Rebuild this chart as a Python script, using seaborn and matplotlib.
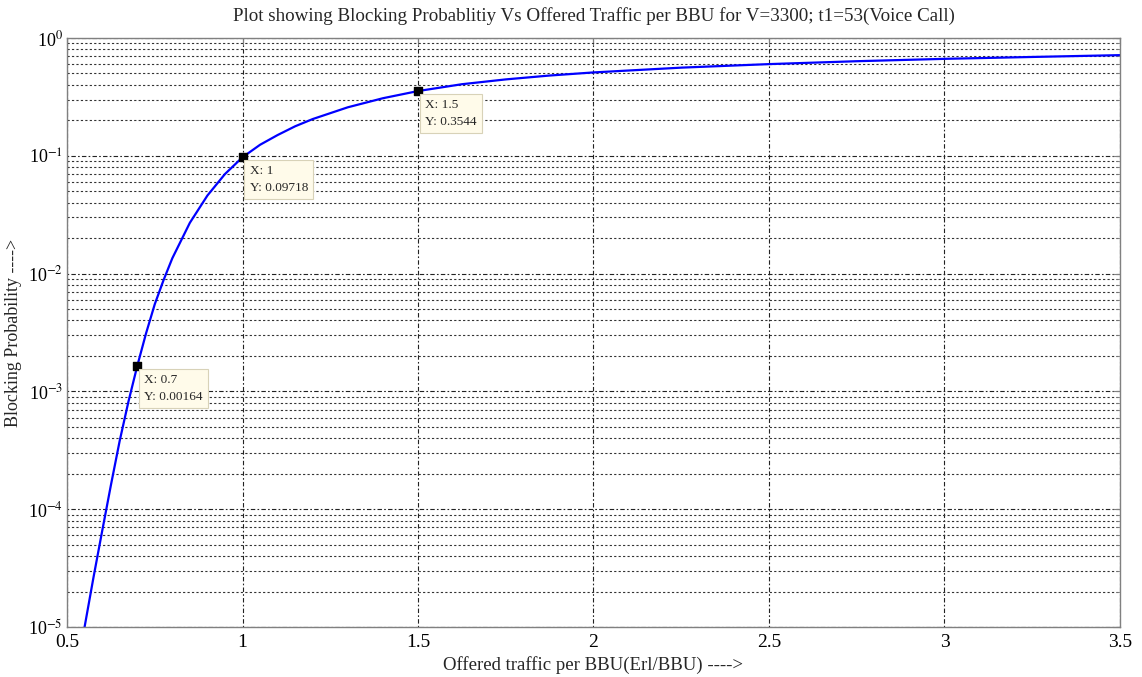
import numpy as np
import pandas as pd
import matplotlib
matplotlib.use("Agg")
import matplotlib.pyplot as plt
import seaborn as sns
from matplotlib.ticker import LogLocator, NullLocator, FixedLocator

# Data
traffic = [0.55, 0.575, 0.6, 0.625, 0.65, 0.675, 0.7, 0.725, 0.75, 0.775, 0.8,
           0.85, 0.9, 0.95, 1.0, 1.05, 1.1, 1.15, 1.2, 1.3, 1.4, 1.5, 1.625,
           1.75, 1.875, 2.0, 2.25, 2.5, 2.75, 3.0, 3.25, 3.5]
blocking = [1.0e-5, 2.6e-5, 6.5e-5, 1.6e-4, 3.8e-4, 8.2e-4, 0.00164, 3.1e-3,
            5.5e-3, 8.8e-3, 0.0135, 0.027, 0.046, 0.07, 0.09718, 0.124, 0.15,
            0.178, 0.205, 0.258, 0.308, 0.3544, 0.405, 0.445, 0.48, 0.51, 0.56,
            0.60, 0.635, 0.665, 0.69, 0.715]
tip_x = [0.7, 1.0, 1.5]
tip_y = [0.00164, 0.09718, 0.3544]
tip_labels = ["X: 0.7\nY: 0.00164", "X: 1\nY: 0.09718", "X: 1.5\nY: 0.3544"]
x_ticks = [0.5, 1, 1.5, 2, 2.5, 3, 3.5]

df = pd.DataFrame({"traffic": traffic, "blocking": blocking})

sns.set_style("white")
plt.rcParams['font.family'] = ['Liberation Serif', 'DejaVu Serif']
plt.rcParams['mathtext.fontset'] = 'stix'

fig = plt.figure(figsize=(11.42, 6.77), dpi=100)
ax = fig.add_axes([0.0587, 0.0739, 0.922, 0.870])

sns.lineplot(data=df, x="traffic", y="blocking", ax=ax, color=(0, 0, 1),
             linewidth=1.6, estimator=None)
ax.set_yscale("log")
ax.set_xlim(0.5, 3.5)
ax.set_ylim(1e-5, 1)
ax.xaxis.set_major_locator(FixedLocator(x_ticks))
ax.xaxis.set_minor_locator(NullLocator())
ax.set_xticklabels([f"{t:g}" for t in x_ticks])
ax.yaxis.set_major_locator(LogLocator(base=10, numticks=10))
ax.yaxis.set_minor_locator(LogLocator(base=10, subs=np.arange(2, 10), numticks=20))
ax.yaxis.set_major_formatter(matplotlib.ticker.FuncFormatter(
    lambda v, p: "10$^{%d}$" % int(round(np.log10(v)))))

ax.grid(True, which="major", axis="both", color="#222222", linestyle=(0, (1.5, 2, 4, 2)), linewidth=0.8)
ax.grid(True, which="minor", axis="y", color="#333333", linestyle=(0, (2, 2)), linewidth=0.8)

for sp in ax.spines.values():
    sp.set_color("#808080")
    sp.set_linewidth(1.0)
ax.tick_params(which="both", direction="in", top=True, right=True, colors="#808080",
               labelcolor="black", labelsize=14)
ax.tick_params(which="major", length=5)
ax.tick_params(which="minor", length=3)
ax.tick_params(axis="x", pad=5)
ax.tick_params(axis="y", pad=3, labelsize=13)

# Datatips
ax.scatter(tip_x, tip_y, marker="s", s=30, color="black", zorder=5)
for x, y, lab in zip(tip_x, tip_y, tip_labels):
    ax.annotate(lab, (x, y), xytext=(7, -8), textcoords="offset pixels",
                ha="left", va="top", fontsize=9.5, linespacing=1.5,
                bbox=dict(boxstyle="square,pad=0.4", fc="#fffbea", ec="#d8d2b8", lw=0.8),
                zorder=6)

ax.set_title("Plot showing Blocking Probablitiy Vs Offered Traffic per BBU for V=3300; t1=53(Voice Call)",
             fontsize=13.7, pad=12)
ax.set_xlabel("Offered traffic per BBU(Erl/BBU) ---->", fontsize=13.5, labelpad=4)
ax.set_ylabel("Blocking Probability ---->", fontsize=13)
ax.yaxis.set_label_coords(-0.043, 0.5)

fig.savefig("out.png", dpi=100)
